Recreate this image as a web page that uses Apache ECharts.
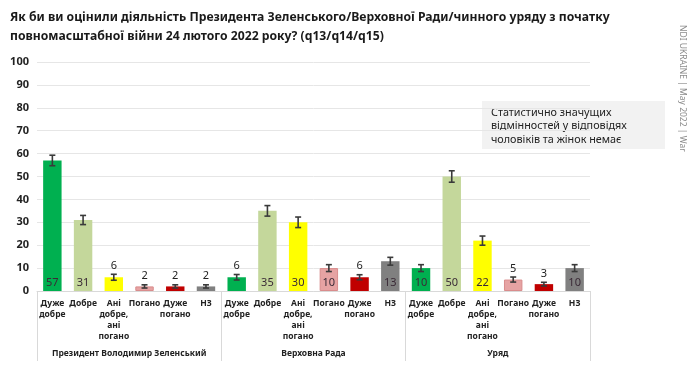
<!DOCTYPE html>
<html>
<head>
<meta charset="utf-8">
<script src="https://cdn.jsdelivr.net/npm/echarts@6/dist/echarts.min.js"></script>
<style>
  html, body { margin: 0; padding: 0; background: #fff; }
  #chart { width: 690px; height: 375px; }
</style>
</head>
<body>
<div id="chart"></div>
<script>
// answer options, repeated for each institution
const answers = ["Дуже\nдобре", "Добре", "Ані\nдобре,\nані\nпогано", "Погано", "Дуже\nпогано", "НЗ"];
const groups = ["Президент Володимир Зеленський", "Верховна Рада", "Уряд"];
const answerColors = ["#00b050", "#c4d79b", "#ffff00", "#e6a3a3", "#c00000", "#808080"];

// percentages per institution
const zelenskyValues = [57, 31, 6, 2, 2, 2];
const radaValues = [6, 35, 30, 10, 6, 13];
const govValues = [10, 50, 22, 5, 3, 10];

// margin of error (+/-) read from the whiskers
const zelenskyErr = [2.3, 2.0, 1.3, 0.7, 0.7, 0.7];
const radaErr = [1.2, 2.3, 2.3, 1.5, 1.1, 1.7];
const govErr = [1.5, 2.5, 2.0, 1.1, 0.8, 1.5];

const categories = [].concat(answers, answers, answers);
const values = [].concat(zelenskyValues, radaValues, govValues);
const errors = [].concat(zelenskyErr, radaErr, govErr);

const labelColor = "#3a2a36";
const font = "'Noto Sans', sans-serif";

const barData = values.map((v, i) => ({
  value: v,
  itemStyle: {
    color: answerColors[i % 6],
    borderColor: i % 6 === 3 ? "#d98c8c" : "transparent",
    borderWidth: i % 6 === 3 ? 1 : 0
  },
  label: { show: v >= 10 }
}));

const errData = values.map((v, i) => [i, v - errors[i], v + errors[i], v]);

const chart = echarts.init(document.getElementById("chart"));

chart.setOption({
  animation: false,
  textStyle: { fontFamily: font },
  title: {
    text: "Як би ви оцінили діяльність Президента Зеленського/Верховної Ради/чинного уряду з початку\nповномасштабної війни 24 лютого 2022 року? (q13/q14/q15)",
    left: 5,
    top: 3,
    textStyle: { fontSize: 12.2, fontWeight: "bold", color: "#1a1a1a", lineHeight: 19, fontFamily: font }
  },
  grid: { left: 37, right: 100, top: 62, bottom: 84 },
  xAxis: [
    {
      type: "category",
      data: categories,
      axisLine: { lineStyle: { color: "#d9d9d9" } },
      axisTick: { show: false },
      axisLabel: {
        interval: 0,
        margin: 7,
        fontSize: 8.5,
        fontWeight: "bold",
        color: "#222",
        lineHeight: 11,
        verticalAlign: "top"
      }
    },
    {
      type: "category",
      data: groups,
      position: "bottom",
      axisLine: { show: false },
      axisTick: { show: true, length: 70, lineStyle: { color: "#d9d9d9" } },
      axisLabel: {
        interval: 0,
        margin: 58,
        fontSize: 8.5,
        fontWeight: "bold",
        color: "#222"
      }
    }
  ],
  yAxis: {
    type: "value",
    min: 0,
    max: 100,
    interval: 10,
    axisLine: { show: false },
    axisTick: { show: false },
    splitLine: { lineStyle: { color: "#e6e6e6" } },
    axisLabel: { fontSize: 11, fontWeight: "bold", color: "#222", margin: 8 }
  },
  series: [
    {
      type: "bar",
      xAxisIndex: 0,
      data: barData,
      barCategoryGap: "40%",
      label: {
        position: "insideBottom",
        distance: 3,
        fontSize: 11,
        color: labelColor
      }
    },
    {
      type: "custom",
      xAxisIndex: 0,
      data: errData,
      z: 10,
      renderItem: function (params, api) {
        const x = api.value(0);
        const lo = api.coord([x, api.value(1)]);
        const hi = api.coord([x, api.value(2)]);
        const cap = 3;
        const style = { stroke: "#3a3a3a", lineWidth: 1.6 };
        const children = [
          { type: "line", shape: { x1: lo[0], y1: lo[1], x2: hi[0], y2: hi[1] }, style: style },
          { type: "line", shape: { x1: lo[0] - cap, y1: lo[1], x2: lo[0] + cap, y2: lo[1] }, style: style },
          { type: "line", shape: { x1: hi[0] - cap, y1: hi[1], x2: hi[0] + cap, y2: hi[1] }, style: style }
        ];
        const v = api.value(3);
        if (v < 10) {
          children.push({
            type: "text",
            style: {
              text: String(v),
              x: hi[0],
              y: hi[1] - 3,
              align: "center",
              verticalAlign: "bottom",
              fontSize: 11,
              fontFamily: font,
              fill: "#222"
            }
          });
        }
        return { type: "group", children: children };
      }
    }
  ],
  graphic: [
    {
      type: "group",
      left: 482,
      top: 101,
      children: [
        { type: "rect", shape: { width: 183, height: 48 }, style: { fill: "#f2f2f2" } },
        {
          type: "text",
          left: 9,
          top: 5,
          style: {
            text: "Статистично значущих\nвідмінностей у відповідях\nчоловіків та жінок немає",
            fontSize: 10.8,
            lineHeight: 13.5,
            fontFamily: font,
            fill: "#222"
          }
        }
      ]
    },
    {
      type: "text",
      left: 678,
      top: 25,
      rotation: -Math.PI / 2,
      style: {
        text: "NDI UKRAINE | May 2022 | War",
        fontSize: 8.5,
        fontFamily: font,
        fill: "#8c8c8c"
      }
    }
  ]
});
</script>
</body>
</html>
